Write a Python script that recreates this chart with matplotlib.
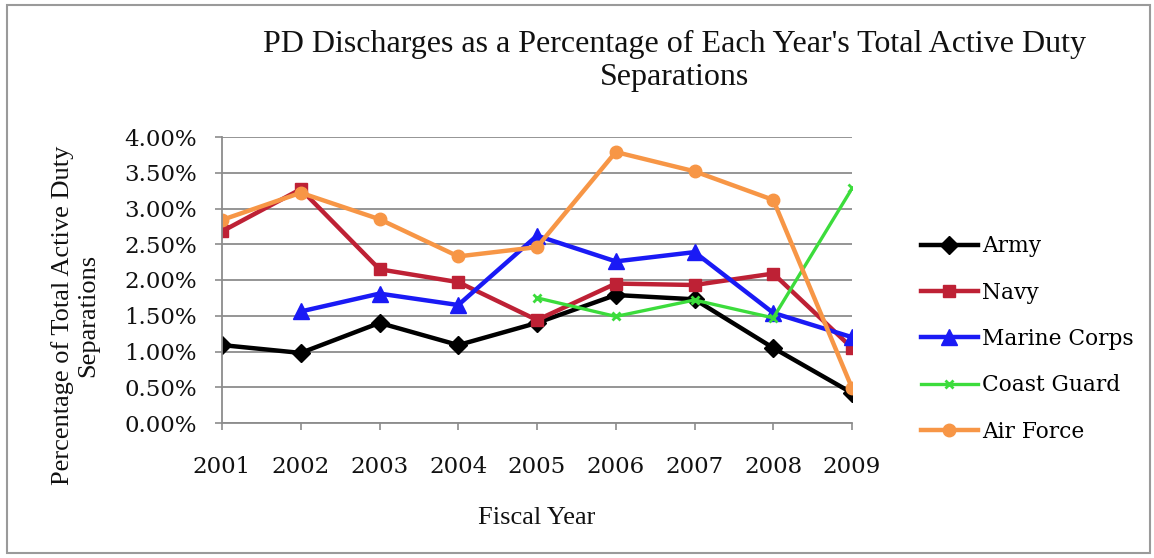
import numpy as np
import matplotlib
matplotlib.use("Agg")
import matplotlib.pyplot as plt
from matplotlib.patches import Rectangle

years = [2001, 2002, 2003, 2004, 2005, 2006, 2007, 2008, 2009]

# percentages of total active duty separations (nan = no data)
army = [1.09, 0.98, 1.40, 1.09, 1.40, 1.79, 1.73, 1.05, 0.42]
navy = [2.68, 3.27, 2.15, 1.97, 1.44, 1.95, 1.93, 2.09, 1.05]
marine_corps = [np.nan, 1.56, 1.81, 1.65, 2.62, 2.26, 2.39, 1.54, 1.20]
coast_guard = [np.nan, np.nan, np.nan, np.nan, 1.75, 1.49, 1.72, 1.47, 3.28]
air_force = [2.84, 3.22, 2.85, 2.33, 2.46, 3.79, 3.52, 3.12, 0.49]

series = [
    ("Army", army, "#000000", "D", 9, 3.2),
    ("Navy", navy, "#BE2135", "s", 9, 3.2),
    ("Marine Corps", marine_corps, "#1A1AF5", "^", 11, 3.2),
    ("Coast Guard", coast_guard, "#3CDC3C", "x", 6, 2.4),
    ("Air Force", air_force, "#F79646", "o", 9, 3.2),
]

W, H = 1154, 558
fig = plt.figure(figsize=(W / 100, H / 100), dpi=100)
fig.patch.set_facecolor("white")

# chart border
fig.add_artist(Rectangle((7 / W, 5 / H), 1143 / W, 548 / H, transform=fig.transFigure,
                         fill=False, edgecolor="#9a9a9a", linewidth=1.5))

ax = fig.add_axes([222 / W, 1 - 423 / H, 630 / W, (423 - 137) / H])

x = np.arange(len(years))
for name, vals, color, marker, ms, lw in series:
    mew = 2.0 if marker == "x" else 1.0
    ax.plot(x, vals, color=color, marker=marker, markersize=ms, linewidth=lw,
            markeredgewidth=mew, label=name, solid_joinstyle="miter")

ax.set_xlim(0, len(years) - 1)
ax.set_ylim(0, 4.0)
ax.set_yticks(np.arange(0, 4.01, 0.5))
ax.set_yticklabels([f"{v:.2f}%" for v in np.arange(0, 4.01, 0.5)])
ax.set_xticks(x)
ax.set_xticklabels([str(y) for y in years])

for lab in ax.get_xticklabels() + ax.get_yticklabels():
    lab.set_fontfamily("DejaVu Serif")
    lab.set_fontsize(16.5)
    lab.set_color("#111111")

ax.grid(axis="y", color="#8c8c8c", linewidth=1.3)
ax.set_axisbelow(True)
for s in ["top", "right"]:
    ax.spines[s].set_visible(False)
for s in ["left", "bottom"]:
    ax.spines[s].set_color("#8c8c8c")
    ax.spines[s].set_linewidth(1.3)
ax.tick_params(axis="both", direction="out", length=5, width=1.2, color="#8c8c8c")
ax.tick_params(axis="y", pad=13)
ax.tick_params(axis="x", pad=19)
ax.set_facecolor("none")

fig.text(675 / W, 1 - 61 / H,
         "PD Discharges as a Percentage of Each Year's Total Active Duty\nSeparations",
         ha="center", va="center", family="Liberation Serif", fontsize=23,
         linespacing=1.22, color="#111111")

fig.text(75 / W, 1 - 315 / H, "Percentage of Total Active Duty\nSeparations",
         rotation=90, ha="center", va="center", family="Liberation Serif",
         fontsize=19, linespacing=1.2, color="#111111")

fig.text(537 / W, 1 - 518 / H, "Fiscal Year", ha="center", va="center",
         family="Liberation Serif", fontsize=19, color="#111111")

leg = ax.legend(loc="center left", bbox_to_anchor=(910 / W, 1 - 339 / H),
                bbox_transform=fig.transFigure, frameon=False,
                prop=dict(family="DejaVu Serif", size=15.7),
                handlelength=2.6, handletextpad=0.2, labelspacing=1.12,
                borderpad=0)

fig.savefig("out.png", dpi=100)
